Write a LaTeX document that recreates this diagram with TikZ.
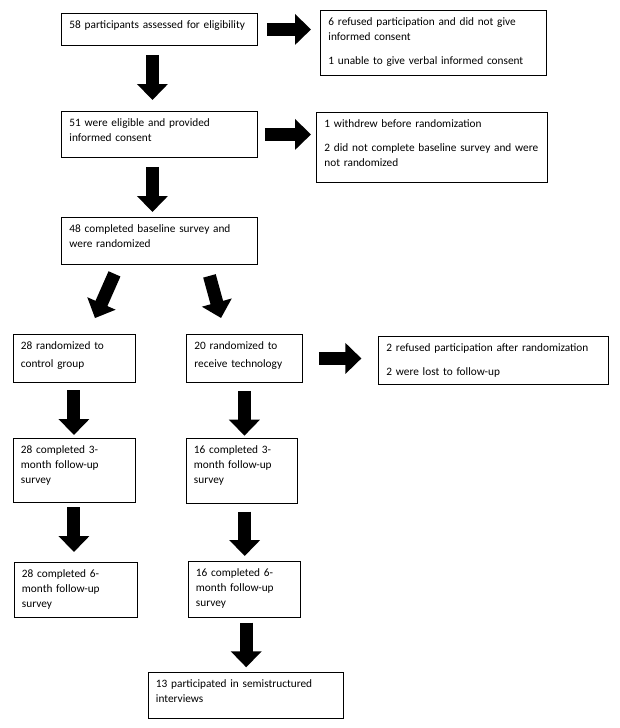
\documentclass[tikz,border=0pt]{standalone}
\usepackage{fontspec}
\setmainfont{Carlito}
\usetikzlibrary{arrows.meta}

\begin{document}
\begin{tikzpicture}
  [x=1pt,y=-1pt,>={Triangle[length=16pt,width=30pt]},
   box/.style={draw,line width=0.9pt,anchor=north west,align=left,
     inner xsep=8pt,inner ysep=0pt,text height=15pt,
     font=\fontsize{11.3}{15}\selectfont},
   wide box/.style={box,font=\fontsize{11.3}{17.7}\selectfont},
   flow/.style={->,line width=13pt}]

  \useasboundingbox (0,0) rectangle (620,728);

  % Enrollment
  \node [box,text width=180pt,text depth=17pt] (assessed) at (61,13)
    {58 participants assessed for eligibility};
  \node [box,text width=210pt,text depth=50pt] (refused) at (320,10)
    {6 refused participation and did not give\\ informed consent\\[9.5pt]
     1 unable to give verbal informed consent};
  \node [box,text width=180pt,text depth=31pt] (eligible) at (61,111)
    {51 were eligible and provided\\ informed consent};
  \node [box,text width=215pt,text depth=55pt] (withdrew) at (316,112)
    {1 withdrew before randomization\\[9.5pt]
     \mbox{2 did not complete baseline survey and were}\\ not randomized};
  \node [box,text width=180pt,text depth=32pt] (baseline) at (61,217)
    {48 completed baseline survey and\\ were randomized};

  % Allocation
  \node [wide box,text width=106pt,text depth=33pt] (control) at (12.5,334)
    {28 randomized to\\ control group};
  \node [wide box,text width=100pt,text depth=33pt] (tech) at (186,334)
    {20 randomized to\\ receive technology};
  \node [box,text width=214pt,text depth=33pt] (lost) at (378,336)
    {2 refused participation after randomization\\[9.5pt]
     2 were lost to follow-up};

  % Follow-up
  \node [box,text width=106pt,text depth=48.5pt] (control3) at (12.5,438)
    {28 completed 3-\\ month follow-up\\ survey};
  \node [box,text width=95.5pt,text depth=50pt] (tech3) at (185.5,438)
    {16 completed 3-\\ month follow-up\\ survey};
  \node [box,text width=107pt,text depth=40pt] (control6) at (13.5,562)
    {28 completed 6-\\ month follow-up\\ survey};
  \node [box,text width=96.5pt,text depth=41pt] (tech6) at (187.5,561)
    {16 completed 6-\\ month follow-up\\ survey};
  \node [box,text width=179.5pt,text depth=31pt] (interview) at (147.5,672)
    {13 participated in semistructured\\ interviews};

  % Arrows
  \draw [flow,shorten <=9pt,shorten >=9pt]
    (assessed.east) -- (assessed.east -| refused.west);
  \draw [flow,shorten <=7pt,shorten >=5pt]
    (eligible.east) -- (eligible.east -| withdrew.west);
  \draw [flow,shorten <=9pt,shorten >=11pt]
    ([xshift=-7pt]assessed.south) -- ([xshift=-7pt]eligible.north);
  \draw [flow,shorten <=9pt,shorten >=5pt]
    ([xshift=-7pt]eligible.south) -- ([xshift=-7pt]baseline.north);
  \draw [flow,shorten <=9.8pt,shorten >=17.4pt]
    ([xshift=-41pt]baseline.south) -- ([xshift=14pt]control.north);
  \draw [flow,shorten <=11.4pt,shorten >=16.6pt]
    ([xshift=47pt]baseline.south) -- ([xshift=-19pt]tech.north);
  \draw [flow,shorten <=16pt,shorten >=16.6pt]
    (tech.east) -- (tech.east -| lost.west);
  \draw [flow,shorten <=7.5pt,shorten >=3pt]
    (control.south) -- (control.south |- control3.north);
  \draw [flow,shorten <=8pt,shorten >=2.3pt]
    (tech.south) -- (tech.south |- tech3.north);
  \draw [flow,shorten <=5pt,shorten >=10pt]
    (control3.south) -- (control3.south |- control6.north);
  \draw [flow,shorten <=7.7pt,shorten >=5pt]
    ([xshift=3pt]tech3.south) -- ([xshift=3pt]tech3.south |- tech6.north);
  \draw [flow,shorten <=4.7pt,shorten >=4.7pt]
    ([xshift=2pt]tech6.south) -- ([xshift=2pt]tech6.south |- interview.north);

\end{tikzpicture}
\end{document}
